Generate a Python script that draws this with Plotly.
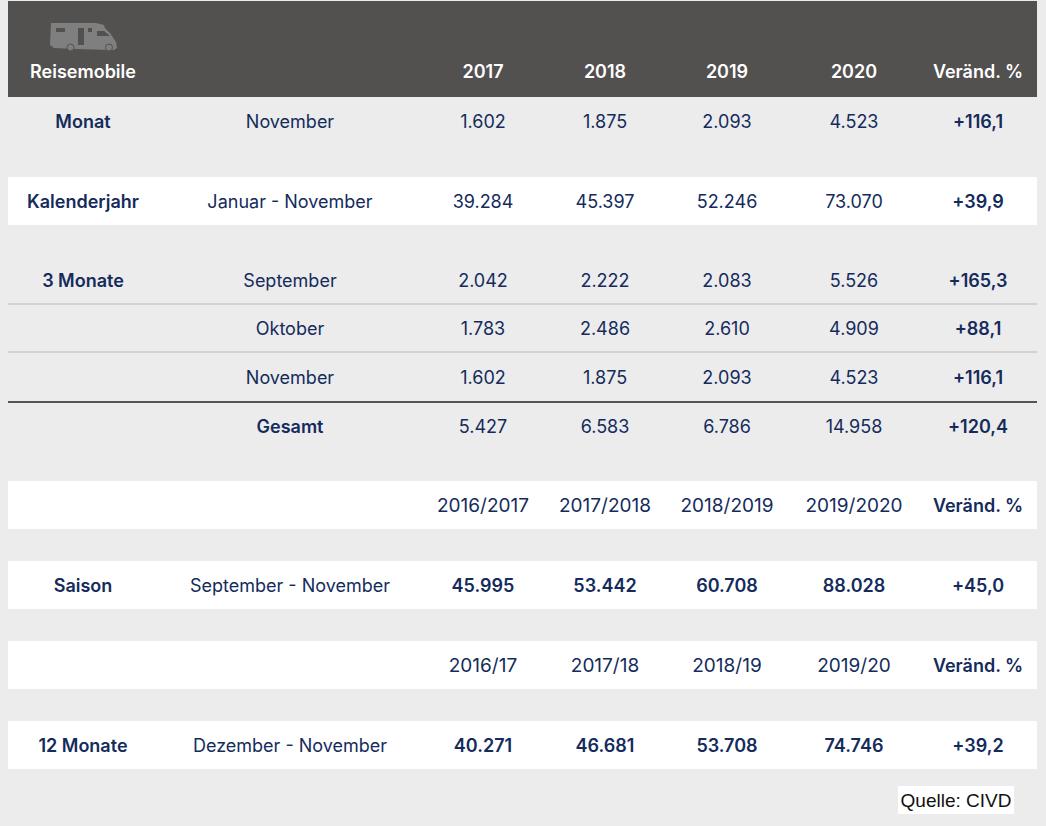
import plotly.graph_objects as go

FONT = "Inter"
NAVY = "#142b5c"
GREY_BG = "#ececec"
HEAD_BG = "#535050"

# table content
header = ["Reisemobile", "", "2017", "2018", "2019", "2020", "Veränd. %"]
group = ["Monat", "Kalenderjahr", "3 Monate", "", "", "", "", "Saison", "", "12 Monate"]
period = ["November", "Januar - November", "September", "Oktober", "November", "Gesamt",
          "", "September - November", "", "Dezember - November"]
col_a = ["1.602", "39.284", "2.042", "1.783", "1.602", "5.427", "2016/2017", "45.995", "2016/17", "40.271"]
col_b = ["1.875", "45.397", "2.222", "2.486", "1.875", "6.583", "2017/2018", "53.442", "2017/18", "46.681"]
col_c = ["2.093", "52.246", "2.083", "2.610", "2.093", "6.786", "2018/2019", "60.708", "2018/19", "53.708"]
col_d = ["4.523", "73.070", "5.526", "4.909", "4.523", "14.958", "2019/2020", "88.028", "2019/20", "74.746"]
change = ["+116,1", "+39,9", "+165,3", "+88,1", "+116,1", "+120,4", "Veränd. %", "+45,0", "Veränd. %", "+39,2"]
source = "Quelle: CIVD"

# layout in page pixels
col_x = [83, 290, 483, 605, 727, 854, 978]
row_y = [123, 203, 282, 330, 379, 428, 507, 587, 667, 747]
white_bands = [(177, 225), (481, 529), (561, 609), (641, 689), (721, 769)]
thin_lines = [304, 352]
bold_value_rows = [7, 9]
bold_period_rows = [5]
# the season label rows run a little wider in the original
value_sizes = [18, 18, 18, 18, 18, 18, 19, 18, 19, 18]

fig = go.Figure()


def add_text(xs, ys, texts, color=NAVY, weight=400, size=18, family=FONT):
    fig.add_trace(go.Scatter(x=xs, y=ys, text=texts, mode="text", textposition="middle center",
                             textfont=dict(family=family, size=size, color=color, weight=weight),
                             hoverinfo="skip", showlegend=False))


# header row
add_text(col_x, [73] * 7, header, color="#ffffff", weight=600)

# first column is all bold, last column too
add_text([col_x[0]] * len(group), row_y, group, weight=600)
add_text([col_x[6]] * len(change), row_y, change, weight=600)

# period column
add_text([col_x[1]] * len(period), row_y,
         [t if i not in bold_period_rows else "" for i, t in enumerate(period)])
add_text([col_x[1]] * len(period), row_y,
         [t if i in bold_period_rows else "" for i, t in enumerate(period)], weight=600)

# year columns
for x, col in zip(col_x[2:6], [col_a, col_b, col_c, col_d]):
    add_text([x] * len(col), row_y, [t if i not in bold_value_rows else "" for i, t in enumerate(col)],
             size=value_sizes)
    add_text([x] * len(col), row_y, [t if i in bold_value_rows else "" for i, t in enumerate(col)], weight=600)

add_text([956], [802], [source], color="#111111", size=19, family="Liberation Sans")

# bands and rules
shapes = [dict(type="rect", x0=8, x1=1037, y0=1, y1=97, fillcolor=HEAD_BG, line_width=0, layer="below")]
for top, bottom in white_bands:
    shapes.append(dict(type="rect", x0=8, x1=1037, y0=top, y1=bottom, fillcolor="#ffffff", line_width=0, layer="below"))
for y in thin_lines:
    shapes.append(dict(type="line", x0=8, x1=1037, y0=y, y1=y, line=dict(color="#d2d2d2", width=2), layer="below"))
shapes.append(dict(type="line", x0=8, x1=1037, y0=402, y1=402, line=dict(color="#555555", width=2), layer="below"))
shapes.append(dict(type="rect", x0=898, x1=1014, y0=786, y1=814, fillcolor="#ffffff", line_width=0, layer="below"))

# camper icon
shapes.append(dict(type="path", layer="below", fillcolor="#7f7f7f", line_width=0,
                   path="M51,23 L96,23 L104,25 L105,28 L110,33 L116,42 L117,48 L114,50 L111,50 "
                        "A4,4 0 0 0 103,50 L75,49 A4,4 0 0 0 67,49 L54,48 L50,45 Z"))
shapes.append(dict(type="rect", layer="below", x0=56, x1=65, y0=28, y1=32, fillcolor=HEAD_BG, line_width=0))
shapes.append(dict(type="rect", layer="below", x0=78, x1=84, y0=28, y1=45, fillcolor=HEAD_BG, line_width=0))
shapes.append(dict(type="rect", layer="below", x0=88, x1=92, y0=28, y1=32, fillcolor=HEAD_BG, line_width=0))
shapes.append(dict(type="path", layer="below", fillcolor=HEAD_BG, line_width=0,
                   path="M97,31 L104,31 L110,36 L97,36 Z"))
for cx in (70.5, 109):
    shapes.append(dict(type="circle", layer="below", x0=cx - 3.5, x1=cx + 3.5, y0=44, y1=51,
                       fillcolor="#7f7f7f", line=dict(color=HEAD_BG, width=1)))

fig.update_layout(
    width=1046, height=826, margin=dict(l=0, r=0, t=0, b=0),
    paper_bgcolor=GREY_BG, plot_bgcolor=GREY_BG, shapes=shapes, showlegend=False,
    xaxis=dict(range=[0, 1046], visible=False, fixedrange=True),
    yaxis=dict(range=[826, 0], visible=False, fixedrange=True),
)

# the page's default body margin would push the figure off by 8px
fig.write_html("out.html", config=dict(displayModeBar=False),
               post_script="document.body.style.margin='0';document.body.style.overflow='hidden';")
